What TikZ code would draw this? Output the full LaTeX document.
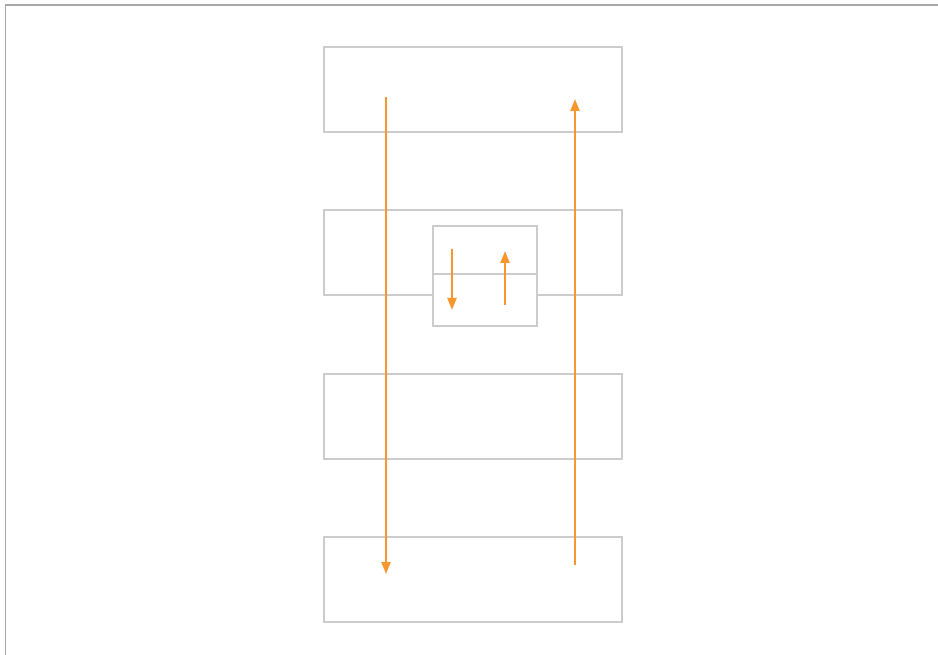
\documentclass[tikz,border=0pt]{standalone}
\usetikzlibrary{arrows.meta}
\begin{document}
\begin{tikzpicture}[x=1pt,y=-1pt,
  layerbox/.style={draw=boxgray,line width=1.2pt,fill=white,minimum width=298pt,minimum height=85pt,inner sep=0pt,outer sep=0pt},
  smallbox/.style={draw=boxgray,line width=1.2pt,fill=white,minimum width=104pt,inner sep=0pt,outer sep=0pt},
  flow/.style={draw=flowor,line width=2.2pt,-{Triangle[width=9pt,length=12pt]}}]
\definecolor{boxgray}{HTML}{CCCCCC}
\definecolor{framegray}{HTML}{A8A8A8}
\definecolor{flowor}{HTML}{F7972E}
\useasboundingbox (0,0) rectangle (938,655);
\fill[white] (0,0) rectangle (938,655);
\coordinate (fr1) at (938,5);
\coordinate (fr0) at (5.5,5);
\coordinate (fr2) at (5.5,655);
\draw[framegray,line width=1.6pt] (fr1) -- (fr0) -- (fr2);
\node[layerbox] (b1) at (473,89.5) {};
\node[layerbox] (b2) at (473,252.5) {};
\node[layerbox] (b3) at (473,416.5) {};
\node[layerbox] (b4) at (473,579.5) {};
\node[smallbox,minimum height=48pt] (s1) at (485,250) {};
\node[smallbox,minimum height=52pt] (s2) at (485,300) {};
\coordinate (a1s) at (386,97);
\coordinate (a1e) at (386,574);
\coordinate (a2s) at (575,565);
\coordinate (a2e) at (575,99);
\coordinate (a3s) at (452,249);
\coordinate (a3e) at (452,310);
\coordinate (a4s) at (505,305);
\coordinate (a4e) at (505,251);
\draw[flow] (a1s) -- (a1e);
\draw[flow] (a2s) -- (a2e);
\draw[flow] (a3s) -- (a3e);
\draw[flow] (a4s) -- (a4e);
\end{tikzpicture}
\end{document}
